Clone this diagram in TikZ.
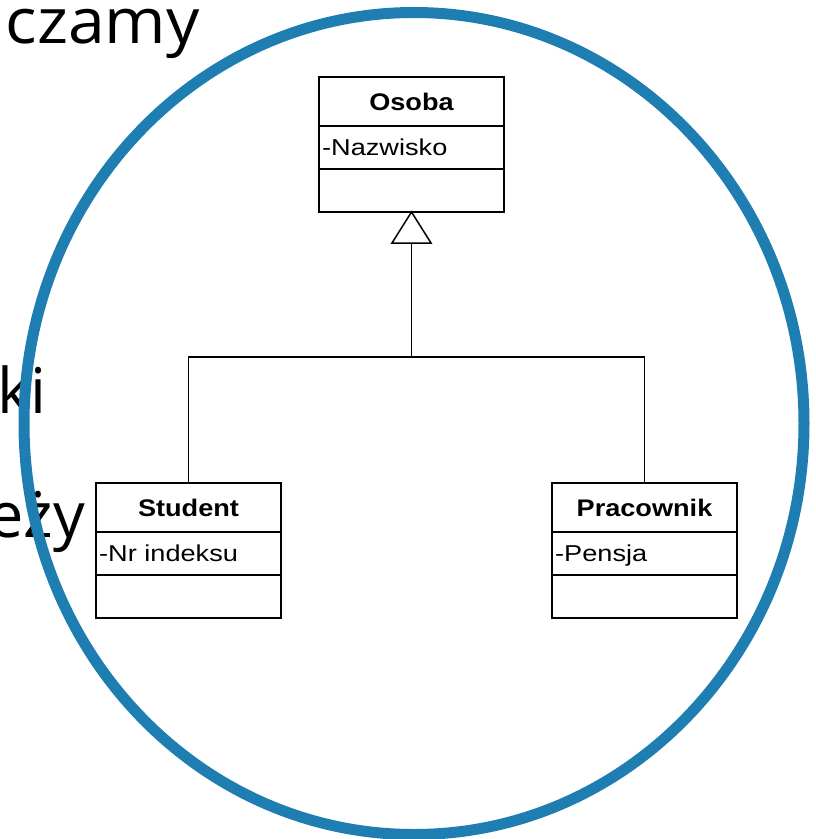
\documentclass[tikz,border=0pt]{standalone}
\usepackage{fontspec}
\usetikzlibrary{calc}
\newfontfamily\umlfont{Liberation Sans}
\newfontfamily\slidefont{Open Sans}
\definecolor{circblue}{RGB}{31,126,177}
\tikzset{
  row/.style={draw, line width=1.9pt, fill=white, minimum width=185pt,
    inner sep=0pt, outer sep=0pt},
  titlerow/.style={row, minimum height=49pt},
  memberrow/.style={row, minimum height=43pt},
  titletext/.style={inner sep=0pt, anchor=base,
    font=\umlfont\bfseries\fontsize{24pt}{28pt}\selectfont},
  membertext/.style={inner sep=0pt, anchor=base west,
    font=\umlfont\fontsize{23pt}{27pt}\selectfont},
  slidetext/.style={inner sep=0pt, anchor=base east,
    font=\slidefont\fontsize{63pt}{70pt}\selectfont},
  link/.style={line width=1.5pt},
}
\newcommand{\widetitle}[1]{\scalebox{1.13}[1]{#1}}
\newcommand{\widemember}[1]{\scalebox{1.18}[1]{#1}}
\begin{document}
\begin{tikzpicture}[x=1pt, y=-1pt]
\useasboundingbox (0,0) rectangle (815,839);
\fill[white] (0,0) rectangle (815,839);

% slide text lying behind the ring
\node[slidetext] (t1) at (200,43) {\scalebox{1.05}[1]{czamy}};
\node[slidetext] (t2) at (47,413) {ki};
\node[slidetext] (t3) at (85,537) {eży};

% the ring
\draw[circblue, line width=11pt] (414,423.5) ellipse [x radius=390pt, y radius=411pt];

% class Osoba
\node[titlerow]  (osT) at (411.5,101.5) {};
\node[memberrow, anchor=north] (osA) at (osT.south) {};
\node[memberrow, anchor=north] (osO) at (osA.south) {};
\node[titletext] (osTt) at ($(osT.center)+(0,8.5)$) {\widetitle{Osoba}};
\node[membertext] (osAt) at ($(osA.west)+(3,8)$) {\widemember{-Nazwisko}};

% class Student
\node[titlerow]  (stT) at (188.5,507.5) {};
\node[memberrow, anchor=north] (stA) at (stT.south) {};
\node[memberrow, anchor=north] (stO) at (stA.south) {};
\node[titletext] (stTt) at ($(stT.center)+(0,9)$) {\widetitle{Student}};
\node[membertext] (stAt) at ($(stA.west)+(3,8)$) {\widemember{-Nr indeksu}};

% class Pracownik
\node[titlerow]  (prT) at (644.5,507.5) {};
\node[memberrow, anchor=north] (prA) at (prT.south) {};
\node[memberrow, anchor=north] (prO) at (prA.south) {};
\node[titletext] (prTt) at ($(prT.center)+(0,9)$) {\widetitle{Pracownik}};
\node[membertext] (prAt) at ($(prA.west)+(3,8)$) {\widemember{-Pensja}};

% generalization: hollow triangle at Osoba, tree down to both subclasses
\coordinate (apex) at (osO.south);
\coordinate (tbase) at ($(apex)+(0,31)$);
\coordinate (join) at ($(apex)+(0,145)$);
\draw[link, fill=white] (apex) -- ($(tbase)+(-19.5,0)$) -- ($(tbase)+(19.5,0)$) -- cycle;
\draw[link] (tbase) -- (join);
\draw[link] (stT.north) |- (join) -| (prT.north);
\end{tikzpicture}
\end{document}
